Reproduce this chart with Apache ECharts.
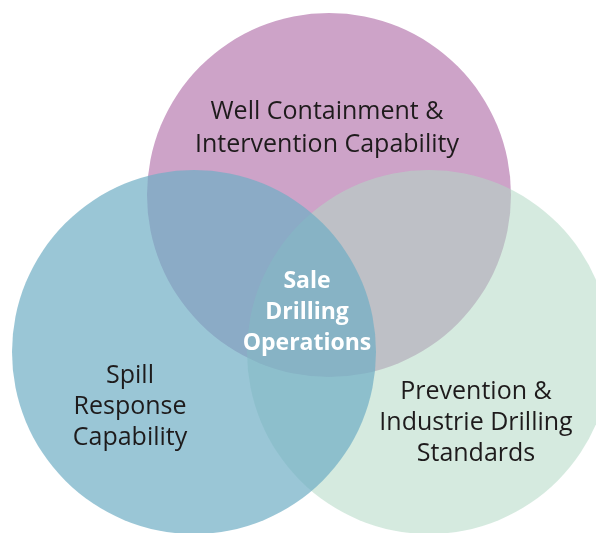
<!DOCTYPE html>
<html>
<head>
<meta charset="utf-8">
<script src="https://cdn.jsdelivr.net/npm/echarts@6/dist/echarts.min.js"></script>
<style>
  html, body { margin: 0; padding: 0; background: #fff; }
  #main { width: 596px; height: 533px; }
</style>
</head>
<body>
<div id="main"></div>
<script>
// the three sets, drawn bottom to top
const setNames = ['Well Containment & Intervention Capability', 'Prevention & Industrie Drilling Standards', 'Spill Response Capability'];
const setX = [329, 429, 194];
const setY = [195, 352, 352];
const setR = [182, 182, 182];
const setColors = ['rgba(205,163,200,1)', 'rgba(179,217,197,0.55)', 'rgba(111,174,196,0.7)'];

// labels
const labelText = [
  'Well Containment &\nIntervention Capability',
  'Prevention &\nIndustrie Drilling\nStandards',
  'Spill\nResponse\nCapability',
  'Sale\nDrilling\nOperations'
];
const labelX = [327, 476, 130, 307];
const labelY = [128, 423, 407, 312];

const chart = echarts.init(document.getElementById('main'));

chart.setOption({
  animation: false,
  grid: { left: 0, right: 0, top: 0, bottom: 0 },
  xAxis: { type: 'value', min: 0, max: 596, show: false },
  yAxis: { type: 'value', min: 0, max: 533, inverse: true, show: false },
  series: [
    {
      type: 'custom',
      data: setNames.map((n, i) => ({ name: n, value: [setX[i], setY[i], setR[i]] })),
      renderItem: function (params, api) {
        const c = api.coord([api.value(0), api.value(1)]);
        const r = api.size([api.value(2), 0])[0];
        return {
          type: 'circle',
          shape: { cx: c[0], cy: c[1], r: r },
          style: { fill: setColors[params.dataIndex] }
        };
      }
    },
    {
      type: 'scatter',
      symbolSize: 1,
      itemStyle: { color: 'rgba(0,0,0,0)' },
      z: 5,
      data: labelText.map((t, i) => ({
        name: t,
        value: [labelX[i], labelY[i]],
        label: i === 3 ? { color: '#fff', fontWeight: 'bold', fontSize: 23, lineHeight: 31 }
          : (i === 0 ? { lineHeight: 33 } : {})
      })),
      label: {
        show: true,
        position: 'inside',
        formatter: '{b}',
        align: 'center',
        verticalAlign: 'middle',
        fontFamily: 'Open Sans',
        fontSize: 25,
        fontWeight: 500,
        lineHeight: 31,
        color: '#1e1b1c',
        textBorderWidth: 0,
        opacity: 1
      }
    }
  ]
});
</script>
</body>
</html>
